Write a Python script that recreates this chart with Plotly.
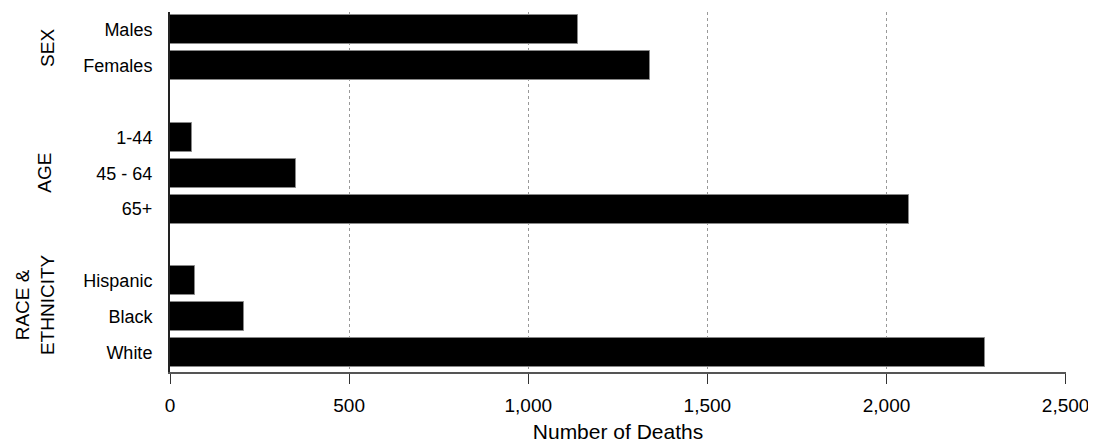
import plotly.graph_objects as go

groups = ["SEX", "AGE", "RACE &<br>ETHNICITY"]
categories = [["Males", "Females"], ["1-44", "45 - 64", "65+"], ["Hispanic", "Black", "White"]]
values = [[1138, 1341], [60, 351, 2063], [71, 207, 2276]]
x_ticks = [0, 500, 1000, 1500, 2000, 2500]
x_ticktext = ["0", "500", "1,000", "1,500", "2,000", "2,500"]

# build positions: one blank slot between groups
ys, xs, labels, group_centers = [], [], [], []
pos = 0
for g, cats, vals in zip(groups, categories, values):
    start = pos
    for c, v in zip(cats, vals):
        ys.append(pos); xs.append(v); labels.append(c)
        pos += 1
    group_centers.append((start + pos - 1) / 2)
    pos += 1

font = "Liberation Sans, Arial, sans-serif"
fig = go.Figure(go.Bar(
    x=xs, y=ys, orientation="h", width=0.81,
    marker=dict(color="black", line=dict(color="#888", width=1)),
))

label_x = {"SEX": -0.136, "AGE": -0.14, "RACE &<br>ETHNICITY": -0.150}
label_shift = {"SEX": 0, "AGE": 0, "RACE &<br>ETHNICITY": 12}
for g, c in zip(groups, group_centers):
    fig.add_annotation(x=label_x[g], xref="paper", y=c, yref="y",
                       xanchor="center", yanchor="middle",
                       text=g, textangle=-90, showarrow=False,
                       yshift=label_shift[g],
                       font=dict(family=font, size=19, color="black"))

fig.update_layout(
    width=1088, height=439,
    margin=dict(l=162, r=30, t=4, b=75),
    plot_bgcolor="white", paper_bgcolor="white",
    showlegend=False,
    font=dict(family=font, size=18, color="black"),
    bargap=0,
)
fig.update_xaxes(
    range=[0, 2501], tickvals=x_ticks, ticktext=x_ticktext,
    tickfont=dict(size=19),
    showgrid=True, gridcolor="#999", griddash="dot", gridwidth=1,
    showline=True, linecolor="#555", linewidth=2,
    ticks="outside", ticklen=10, tickcolor="#333", tickwidth=1,
    ticklabelstandoff=5,
    title=dict(text="Number of Deaths", standoff=10, font=dict(size=21)),
    zeroline=False,
)
fig.update_yaxes(
    range=[pos - 1 - 0.5 + 0.05, -0.5], tickvals=ys, ticktext=labels,
    showgrid=False, showline=True, linecolor="#222", linewidth=2,
    ticks="", ticklabelstandoff=12, zeroline=False,
)
fig.write_html("out.html")
